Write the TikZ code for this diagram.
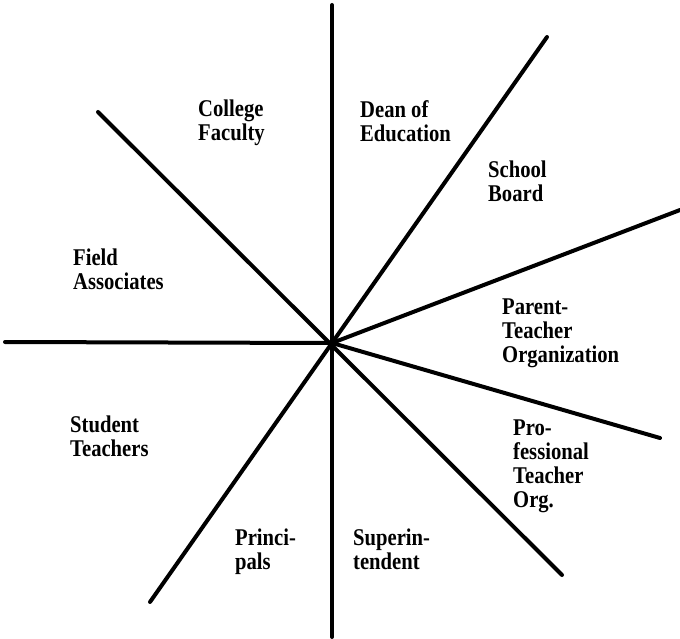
\documentclass[tikz,border=0pt]{standalone}
\usepackage{fontspec}
\setmainfont[FakeStretch=0.86]{Liberation Serif}
\begin{document}
\begin{tikzpicture}[x=1pt,y=-1pt,
  spoke/.style={line width=4pt,line cap=round},
  lab/.style={anchor=north west,inner sep=0pt,align=left,font=\fontsize{24}{24}\selectfont\bfseries}]
\useasboundingbox (0,0) rectangle (680,639);
\coordinate (c) at (332,343);
\coordinate (top) at (332,5);
\coordinate (bot) at (332,637);
\coordinate (lft) at (5,342);
\coordinate (ul) at (98,112);
\coordinate (lr) at (562,575);
\coordinate (ur) at (547,37);
\coordinate (ll) at (150,602);
\coordinate (ru) at (680,210);
\coordinate (rl) at (660,438);
\draw[spoke] (top) -- (bot);
\draw[spoke] (lft) -- (c);
\draw[spoke] (ul) -- (lr);
\draw[spoke] (ur) -- (ll);
\draw[spoke] (c) -- (ru);
\draw[spoke] (c) -- (rl);
\node[lab] (cf) at (198,100) {College\\Faculty};
\node[lab] (de) at (360,100) {Dean of\\Education};
\node[lab] (sb) at (488,161) {School\\Board};
\node[lab] (fa) at (73,249) {Field\\Associates};
\node[lab] (pt) at (502,299) {Parent-\\Teacher\\Organization};
\node[lab] (st) at (70,416) {Student\\Teachers};
\node[lab] (pr) at (513,420) {Pro-\\fessional\\Teacher\\Org.};
\node[lab] (pp) at (235,529) {Princi-\\pals};
\node[lab] (su) at (353,529) {Superin-\\tendent};
\end{tikzpicture}
\end{document}
